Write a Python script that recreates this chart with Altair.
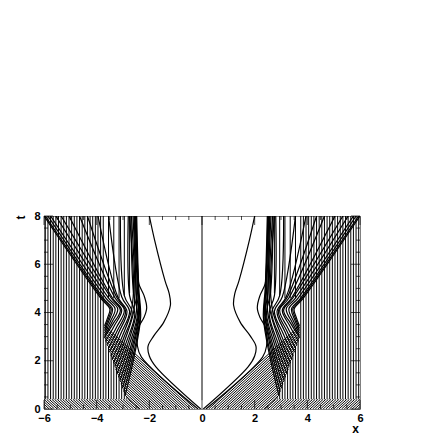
import altair as alt
import pandas as pd

FONT = "Liberation Sans"
X_TICKS = [-6, -4, -2, 0, 2, 4, 6]
Y_TICKS = [0, 2, 4, 6, 8]
X_MINOR = [-5.5, -5, -4.5, -3.5, -3, -2.5, -1.5, -1, -0.5, 0.5, 1, 1.5, 2.5, 3, 3.5, 4.5, 5, 5.5]
Y_MINOR = [0.5, 1, 1.5, 2.5, 3, 3.5, 4.5, 5, 5.5, 6.5, 7, 7.5]

# left half; the picture is mirror-symmetric about x = 0
VERT_FULL = [-5.95, -5.85, -5.75, -5.65, -5.55, -5.45, -5.35, -5.25, -5.15, -5.05, -4.95, -4.85,
             -4.75, -4.65, -4.55, -4.45, -4.35, -4.25, -4.15, -4.05, -3.95, -3.85, -3.75]
VERT_SHORT = [-3.65, -3.55, -3.45, -3.35, -3.25, -3.15, -3.05, -2.95, -2.85]
VERT_SHORT_TOP = [3.0, 2.6, 2.3, 2.0, 1.7, 1.4, 1.1, 0.8, 0.5]
VERT_UPPER = [-3.55, -3.35, -3.15, -2.95, -2.75]
VERT_UPPER_BOTTOM = [4.6, 4.6, 4.6, 4.7, 4.8]
BAND_START = [-6.1, -6.0, -5.9, -5.8, -5.7, -5.6, -5.5, -5.4, -5.3, -5.2, -5.1, -5.0, -4.9, -4.8, -4.7,
              -4.6, -4.5, -4.4, -4.3, -4.2, -4.1, -4.0, -3.9, -3.8, -3.7, -3.6, -3.5, -3.4, -3.3, -3.2,
              -3.1, -3.0, -2.9, -2.8, -2.7, -2.6, -2.5, -2.4]
BAND_END = [-6.5, -6.4, -6.3, -6.2, -6.1, -6.0, -5.9, -5.8, -5.7, -5.6, -5.5, -5.4, -5.3, -5.2, -5.1,
            -5.0, -4.9, -4.8, -4.7, -4.6, -4.5, -4.4, -4.3, -4.2, -4.1, -4.0, -3.9, -3.8, -3.7, -3.6,
            -3.5, -3.4, -3.3, -3.2, -3.1, -3.0, -2.9, -2.8]

FAN_X0 = [-0.25, -0.35, -0.45, -0.55, -0.65, -0.75, -0.85, -0.95, -1.05, -1.15, -1.25,
          -1.45, -1.65, -1.85, -2.05, -2.25, -1.35, -1.55, -1.75, -1.95, -2.15, -2.35]
WALL_X = [-3.70, -3.70, -3.70, -3.70, -3.70, -3.71, -3.66, -3.61, -3.56, -3.51, -3.46,
          -3.36, -3.27, -3.17, -3.07, -2.97, -3.41, -3.31, -3.22, -3.12, -3.02, -2.92]
WALL_T = [3.45, 3.35, 3.25, 3.15, 3.05, 2.96, 2.81, 2.66, 2.51, 2.36, 2.21,
          1.91, 1.62, 1.32, 1.02, 0.72, 2.06, 1.76, 1.47, 1.17, 0.87, 0.57]
MID_X = [-3.58, -3.55, -3.52, -3.47, -3.42, -3.38, -3.33, -3.25, -3.20, -3.15, -3.08,
         -2.97, -2.87, -2.77, -2.68, -2.60, -3.02, -2.92, -2.82, -2.72, -2.64, -2.57]
MID_T = [3.8, 3.75, 3.7, 3.65, 3.6, 3.53, 3.45, 3.38, 3.28, 3.2, 3.13,
         2.95, 2.78, 2.63, 2.45, 2.28, 3.03, 2.88, 2.7, 2.53, 2.38, 2.2]
BULGE_X = [-3.5, -3.45, -3.4, -3.3, -3.2, -3.1, -3.05, -2.95, -2.9, -2.85, -2.75,
           -2.65, -2.55, -2.45, -2.4, -2.35, -2.7, -2.6, -2.5, -2.42, -2.38, -2.33]
BULGE_T = [4.15, 4.15, 4.15, 4.15, 4.15, 4.1, 4.1, 4.1, 4.05, 4.05, 4.05,
           4.0, 3.95, 3.95, 3.9, 3.85, 4.0, 4.0, 3.95, 3.9, 3.9, 3.8]
TURN_X = [-3.85, -3.8, -3.75, -3.65, -3.55, -3.45, -3.4, -3.3, -3.25, -3.2, -3.05,
          -2.95, -2.75, -2.6, -2.5, -2.42, -2.6, -2.55, -2.5, -2.45, -2.42, -2.4]
TURN_T = [4.6, 4.6, 4.6, 4.6, 4.6, 4.6, 4.6, 4.6, 4.65, 4.65, 4.65,
          4.7, 4.7, 4.8, 4.85, 4.9, 4.9, 4.9, 4.9, 4.9, 4.95, 5.0]
END_X = [-6.0, -5.95, -5.85, -5.75, -5.55, -5.35, -5.05, -4.65, -4.35, -3.95, -3.55,
         -3.1, -2.8, -2.7, -2.55, -2.5, -2.75, -2.68, -2.62, -2.58, -2.53, -2.48]
END_T = [8] * 22

CURVE1_X = [-0.05, -1.75, -2.0, -2.05, -1.85, -1.45, -1.2, -1.25, -1.4, -1.8, -2.0]
CURVE1_T = [0, 1.75, 2.2, 2.6, 3.0, 3.6, 4.3, 4.8, 5.3, 7.0, 8.0]
CURVE2_X = [-0.15, -2.3, -2.45, -2.4, -2.2, -2.1, -2.2, -2.4, -2.45, -2.55]
CURVE2_T = [0, 2.15, 2.6, 3.4, 3.8, 4.2, 4.7, 5.2, 6.0, 8.0]
CENTER_X = [0, 0]
CENTER_T = [0.37, 8]

straight, curved = [], []


def add(rows, xs, ts, key):
    for o, (x, t) in enumerate(zip(xs, ts)):
        rows.append({"x": x, "t": t, "id": key, "o": o})


for sign, side in ((1, "L"), (-1, "R")):
    for i, x in enumerate(VERT_FULL):
        add(straight, [sign * x, sign * x], [0.4, 8], f"{side}f{i}")
    for i, (x, top) in enumerate(zip(VERT_SHORT, VERT_SHORT_TOP)):
        add(straight, [sign * x, sign * x], [0.4, top], f"{side}s{i}")
    for i, (x, bot) in enumerate(zip(VERT_UPPER, VERT_UPPER_BOTTOM)):
        add(straight, [sign * x, sign * x], [bot, 8], f"{side}u{i}")
    for i, (a, b) in enumerate(zip(BAND_START, BAND_END)):
        add(straight, [sign * a, sign * b], [0, 0.4], f"{side}b{i}")
    for i in range(len(FAN_X0)):
        add(straight, [sign * FAN_X0[i], sign * WALL_X[i]], [0, WALL_T[i]], f"{side}e{i}")
        add(curved,
            [sign * v for v in (WALL_X[i], MID_X[i], BULGE_X[i], TURN_X[i], END_X[i])],
            [WALL_T[i], MID_T[i], BULGE_T[i], TURN_T[i], END_T[i]], f"{side}c{i}")
    add(curved, [sign * v for v in CURVE1_X], CURVE1_T, f"{side}k1")
    add(curved, [sign * v for v in CURVE2_X], CURVE2_T, f"{side}k2")
add(straight, CENTER_X, CENTER_T, "center")

xs = alt.Scale(domain=[-6, 6], nice=False, zero=False)
ys = alt.Scale(domain=[0, 8], nice=False, zero=False)
X = alt.X("x:Q", scale=xs, axis=alt.Axis(
    values=X_TICKS, format="d", title="x", tickSize=0, domain=False, grid=False,
    labelFont=FONT, labelFontSize=11, labelFontWeight="bold", labelColor="black",
    labelPadding=3, labelFlush=False, labelOverlap=False, labelBound=False,
    titleFont=FONT, titleFontSize=12, titleFontWeight="bold", titleColor="black",
    titleX=311, titleY=19, titleAnchor="middle", titleBaseline="middle"))
Y = alt.Y("t:Q", scale=ys, axis=alt.Axis(
    values=Y_TICKS, format="d", title="t", tickSize=0, domain=False, grid=False,
    labelFont=FONT, labelFontSize=11, labelFontWeight="bold", labelColor="black",
    labelPadding=4, labelFlush=False, labelOverlap=False, labelBound=False,
    titleFont=FONT, titleFontSize=12, titleFontWeight="bold", titleColor="black",
    titleX=-24, titleY=1, titleAngle=270, titleAlign="center", titleBaseline="middle"))

lin = alt.Chart(pd.DataFrame(straight)).mark_line(color="black", strokeWidth=1.0, clip=True).encode(
    x=X, y=Y, detail="id:N", order="o:Q")
cur = alt.Chart(pd.DataFrame(curved)).mark_line(
    color="black", strokeWidth=1.2, clip=True, interpolate="catmull-rom").encode(
    x=X, y=Y, detail="id:N", order="o:Q")


def yticks(vals, at, size, off):
    d = pd.DataFrame({"x": [at] * len(vals), "t": vals})
    return alt.Chart(d).mark_tick(orient="horizontal", size=size, thickness=1, color="black",
                                  xOffset=off).encode(x=X, y=Y)


def xticks(vals, at, size, off):
    d = pd.DataFrame({"x": vals, "t": [at] * len(vals)})
    return alt.Chart(d).mark_tick(orient="vertical", size=size, thickness=1, color="black",
                                  yOffset=off).encode(x=X, y=Y)


chart = alt.layer(
    lin, cur,
    yticks(Y_TICKS, -6, 9, 4.5), yticks(Y_MINOR, -6, 4, 2),
    yticks(Y_TICKS, 6, 9, -4.5), yticks(Y_MINOR, 6, 4, -2),
    xticks(X_TICKS, 8, 9, 4.5), xticks(X_MINOR, 8, 4, 2),
    xticks(X_TICKS, 0, 9, -4.5), xticks(X_MINOR, 0, 4, -2),
).properties(
    width=316, height=193,
    padding={"left": 36, "top": 208, "right": 10, "bottom": 25},
    autosize=alt.AutoSizeParams(type="none"),
    background="white",
).configure_view(stroke="#808080", strokeWidth=1)

chart.save("out.html", embed_options={"renderer": "svg", "actions": False})
